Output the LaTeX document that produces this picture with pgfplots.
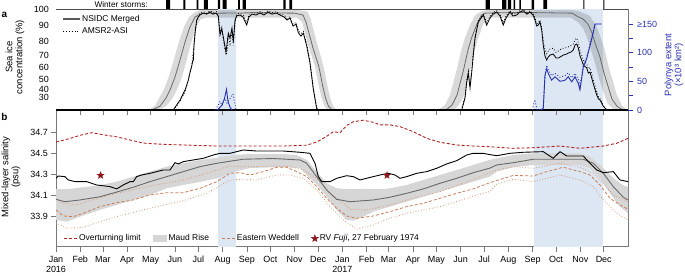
\documentclass[border=0pt]{standalone}
\usepackage{pgfplots}
\pgfplotsset{compat=1.18}
\usepackage{fontspec}
\setmainfont{Liberation Sans}
\definecolor{pblue}{RGB}{40,50,175}
\definecolor{lblue}{RGB}{221,231,243}
\definecolor{bandgray}{RGB}{214,214,214}
\definecolor{medgray}{RGB}{105,105,105}
\definecolor{olred}{RGB}{178,34,34}
\definecolor{ewdash}{RGB}{200,125,90}
\definecolor{ewdot}{RGB}{212,150,118}
\definecolor{starred}{RGB}{140,22,28}
\definecolor{axgray}{RGB}{120,120,120}
\pgfdeclareplotmark{fstar}{%
  \pgfpathmoveto{\pgfpointpolar{90}{\pgfplotmarksize}}%
  \pgfpathlineto{\pgfpointpolar{126}{0.42\pgfplotmarksize}}%
  \pgfpathlineto{\pgfpointpolar{162}{\pgfplotmarksize}}%
  \pgfpathlineto{\pgfpointpolar{198}{0.42\pgfplotmarksize}}%
  \pgfpathlineto{\pgfpointpolar{234}{\pgfplotmarksize}}%
  \pgfpathlineto{\pgfpointpolar{270}{0.42\pgfplotmarksize}}%
  \pgfpathlineto{\pgfpointpolar{306}{\pgfplotmarksize}}%
  \pgfpathlineto{\pgfpointpolar{342}{0.42\pgfplotmarksize}}%
  \pgfpathlineto{\pgfpointpolar{18}{\pgfplotmarksize}}%
  \pgfpathlineto{\pgfpointpolar{54}{0.42\pgfplotmarksize}}%
  \pgfpathclose
  \pgfusepathqfillstroke
}
\pgfplotsset{
  lleg/.style={legend image code/.code={\draw[##1] (0bp,0bp) -- (13bp,0bp);}},
  llegw/.style={legend image code/.code={\draw[##1] (0bp,0bp) -- (17bp,0bp);}},
  rleg/.style={legend image code/.code={\fill[##1] (0bp,-3.5bp) rectangle (14bp,3.5bp);}},
  sleg/.style={legend image code/.code={\draw[##1] plot coordinates {(3.5bp,0bp)};}},
}
\begin{document}
\fontsize{9}{10}\selectfont
\begin{tikzpicture}
\useasboundingbox (0,0) rectangle (685bp,-276bp);
\pgfplotsset{every axis/.append style={scale only axis, width=572bp, xmin=0, xmax=731,
  font=\fontsize{9}{10}\selectfont, /pgf/number format/assume math mode=true}}

% ---------------- panel b ----------------
\begin{axis}[at={(56bp,-110bp)}, anchor=north west, height=136.7bp,
  ymin=33.605, ymax=34.918,
  axis line style={axgray, line width=0.5bp},
  xtick={0,31,60,91,121,152,182,213,244,274,305,335,366,397,425,456,486,517,547,578,609,639,670,700},
  xticklabels={Jan\\2016,Feb,Mar,Apr,May,Jun,Jul,Aug,Sep,Oct,Nov,Dec,Jan\\2017,Feb,Mar,Apr,May,Jun,Jul,Aug,Sep,Oct,Nov,Dec},
  xticklabel style={align=center, yshift=-1bp},
  xtick pos=left, ytick pos=left,
  tick align=outside, major tick length=5bp,
  tick style={axgray, line width=0.5bp},
  ytick={33.9,34.1,34.3,34.5,34.7},
  yticklabel style={/pgf/number format/.cd, fixed, fixed zerofill, precision=1},
  legend style={at={(0.013,0.02)}, anchor=south west, draw=none, fill=none,
    font=\fontsize{8.5}{9.5}\selectfont, inner sep=0pt,
    nodes={inner sep=1.5bp}, legend columns=4,
    /tikz/every even column/.append style={column sep=11bp}},
  legend cell align=left,
]
\addlegendimage{olred, dashed, dash pattern=on 3bp off 2bp, line width=0.9bp, lleg}
\addlegendentry{Overturning limit}
\addlegendimage{fill=bandgray, draw=none, rleg}
\addlegendentry{Maud Rise}
\addlegendimage{ewdash, dashed, dash pattern=on 3bp off 2bp, line width=0.8bp, lleg}
\addlegendentry{Eastern Weddell}
\addlegendimage{only marks, mark=fstar, mark size=3.6bp, starred, sleg}
\addlegendentry{RV \textit{Fuji}, 27 February 1974}

% light blue periods
\addplot[fill=lblue, draw=none, forget plot] coordinates {(207.4,33.605)(229.6,33.605)(229.6,34.918)(207.4,34.918)};
\addplot[fill=lblue, draw=none, forget plot] coordinates {(611.2,33.605)(698.7,33.605)(698.7,34.918)(611.2,34.918)};
% Maud Rise band
\addplot[fill=bandgray, draw=none, forget plot] coordinates {
(0,34.157)(17.9,34.16)(56.2,34.196)(77.6,34.23)(98.8,34.278)(120.1,34.326)(141.5,34.374)(162.7,34.406)(184,34.438)(205.4,34.46)(226.6,34.486)(247.9,34.495)(290.5,34.495)(307.6,34.486)(320.4,34.438)(333.2,34.326)(345.9,34.214)(358.7,34.166)(375.7,34.157)(397,34.16)(414.1,34.157)(426.8,34.166)(448.2,34.198)(469.4,34.246)(490.7,34.294)(512.1,34.342)(533.3,34.39)(554.6,34.44)(584.4,34.486)(610,34.502)(669.6,34.502)(682.4,34.47)(695.2,34.39)(708,34.294)(720.8,34.214)(731,34.176)
(731,33.926)(720.8,33.99)(708,34.118)(695.2,34.262)(682.4,34.358)(669.6,34.39)(610,34.39)(584.4,34.368)(563.1,34.326)(554.6,34.278)(533.3,34.23)(512.1,34.182)(490.7,34.134)(469.4,34.086)(448.2,34.038)(426.8,33.99)(405.5,33.942)(392.7,33.894)(380,33.855)(371.5,33.862)(358.7,33.958)(345.9,34.086)(333.2,34.2)(324.6,34.26)(311.8,34.36)(290.5,34.37)(247.9,34.361)(226.6,34.323)(205.4,34.262)(184,34.227)(162.7,34.198)(141.5,34.166)(120.1,34.102)(98.8,34.054)(77.6,34.006)(56.2,33.958)(30.7,33.894)(13.7,33.846)(0,33.862)};
% Eastern Weddell upper dotted
\addplot[ewdot, dotted, line width=0.8bp, forget plot] coordinates {
(0,34.06)(9.3,34.022)(26.5,34.006)(43.5,34.047)(77.6,34.118)(120.1,34.188)(162.7,34.246)(192.6,34.31)(222.4,34.38)(239.4,34.374)(256.5,34.374)(282,34.38)(299,34.374)(316,34.342)(333.2,34.262)(350.2,34.118)(367.2,34.022)(375.7,33.965)(397,33.958)(426.8,34.006)(448.2,34.054)(490.7,34.134)(533.3,34.25)(563.1,34.34)(584.4,34.374)(610,34.358)(644.1,34.406)(669.6,34.368)(686.7,34.31)(699.5,34.214)(712.2,34.102)(731,34.038)};
% Eastern Weddell lower dotted
\addplot[ewdot, dotted, line width=0.8bp, forget plot] coordinates {
(0,33.836)(13.7,33.782)(34.9,33.79)(56.2,33.846)(77.6,33.894)(120.1,33.974)(162.7,34.047)(192.6,34.118)(222.4,34.246)(239.4,34.253)(256.5,34.246)(282,34.294)(299,34.294)(316,34.262)(333.2,34.15)(350.2,33.99)(367.2,33.862)(384.3,33.773)(405.5,33.814)(426.8,33.878)(448.2,33.926)(469.4,33.958)(490.7,33.99)(512.1,34.038)(533.3,34.092)(554.6,34.134)(563.1,34.207)(584.4,34.253)(610,34.23)(644.1,34.294)(669.6,34.246)(686.7,34.182)(699.5,34.054)(716.5,33.926)(731,33.862)};
% Eastern Weddell median dashed
\addplot[ewdash, dashed, dash pattern=on 3bp off 2bp, line width=0.8bp, forget plot] coordinates {
(0,33.958)(9.3,33.9)(22.1,33.894)(34.9,33.926)(56.2,33.99)(77.6,34.028)(98.8,34.054)(120.1,34.102)(141.5,34.124)(162.7,34.124)(184,34.166)(205.4,34.23)(222.4,34.31)(235.1,34.316)(247.9,34.294)(264.9,34.326)(282,34.368)(294.8,34.368)(307.6,34.326)(320.4,34.278)(333.2,34.182)(345.9,34.07)(358.7,33.974)(371.5,33.9)(384.3,33.878)(405.5,33.9)(426.8,33.942)(448.2,33.99)(469.4,34.022)(490.7,34.07)(512.1,34.118)(533.3,34.16)(554.6,34.22)(584.4,34.29)(610,34.284)(627,34.326)(648.3,34.368)(669.6,34.326)(682.4,34.294)(695.2,34.198)(708,34.07)(720.8,34.006)(731,33.965)};
% Maud Rise median
\addplot[medgray, line width=0.9bp, forget plot] coordinates {
(0,34.06)(11.5,34.037)(30.7,34.054)(56.2,34.085)(77.6,34.13)(98.8,34.176)(120.1,34.23)(141.5,34.278)(162.7,34.326)(184,34.374)(205.4,34.406)(226.6,34.431)(239.4,34.445)(277.7,34.452)(311.8,34.438)(320.4,34.406)(333.2,34.278)(345.9,34.15)(358.7,34.06)(375.7,34.037)(405.5,34.054)(426.8,34.08)(448.2,34.118)(469.4,34.16)(490.7,34.214)(512.1,34.262)(533.3,34.316)(554.6,34.36)(563.1,34.39)(584.4,34.412)(610,34.445)(673.9,34.445)(686.7,34.406)(699.5,34.31)(712.2,34.182)(725,34.08)(731,34.054)};
% overturning limit
\addplot[olred, dashed, dash pattern=on 3bp off 2bp, line width=0.9bp, forget plot] coordinates {
(0,34.61)(17.9,34.645)(30.7,34.675)(45.6,34.70)(60.4,34.68)(77.6,34.66)(94.6,34.63)(111.6,34.60)(137.1,34.588)(162.7,34.582)(205.4,34.572)(247.9,34.572)(290.5,34.572)(320.4,34.58)(333.2,34.61)(345.9,34.665)(354.4,34.71)(363,34.70)(371.5,34.77)(380,34.805)(392.7,34.82)(405.5,34.80)(414.1,34.775)(426.8,34.775)(439.6,34.758)(456.6,34.71)(473.7,34.646)(490.7,34.608)(512.1,34.582)(533.3,34.572)(554.6,34.565)(584.4,34.55)(610,34.556)(644.1,34.572)(669.6,34.55)(699.4,34.572)(716.5,34.598)(731,34.646)};
% observed mixed-layer salinity
\addplot[black, line width=0.9bp, forget plot] coordinates {
(0,34.262)(2.9,34.284)(11.5,34.278)(15.7,34.246)(24.3,34.23)(39.2,34.23)(52,34.198)(69,34.182)(77.6,34.16)(86,34.198)(94.6,34.23)(98.8,34.23)(103.1,34.278)(109.5,34.294)(120.1,34.31)(137.1,34.342)(145.7,34.342)(152.1,34.412)(156.3,34.4)(162.7,34.422)(175.5,34.438)(188.2,34.454)(201,34.486)(209.6,34.502)(222.4,34.502)(230.9,34.518)(239.4,34.534)(256.5,34.524)(290.5,34.524)(311.8,34.512)(324.6,34.502)(331,34.406)(335.2,34.278)(339.6,34.23)(350.2,34.23)(358.7,34.262)(371.5,34.287)(380,34.278)(388.5,34.246)(397,34.262)(405.5,34.278)(414.1,34.294)(424.7,34.31)(433.2,34.294)(439.6,34.262)(448.2,34.278)(461,34.31)(473.7,34.326)(486.5,34.358)(499.3,34.4)(512.1,34.431)(524.9,34.486)(533.3,34.502)(546.1,34.502)(550.4,34.495)(563.2,34.479)(580.2,34.502)(597.2,34.512)(622.7,34.518)(629.1,34.486)(635.5,34.454)(644.1,34.518)(652.7,34.476)(673.9,34.476)(682.4,34.406)(691,34.342)(699.5,34.316)(712.2,34.326)(720.8,34.246)(731,34.23)};
% RV Fuji
\addplot[only marks, mark=fstar, mark size=3.6bp, starred, forget plot] coordinates {(57,34.29)(423,34.29)};
\end{axis}

% ---------------- winter storms strip ----------------
\begin{axis}[at={(56bp,0bp)}, anchor=north west, height=9bp, ymin=0, ymax=1, hide axis, clip=false]
\addplot[ybar interval, fill=black, draw=none] coordinates {
(140.6,1)(145.7,0)(162.7,1)(165.2,0)(179.8,1)(181.9,0)(189.1,1)(194.2,0)(207.0,1)(209.6,0)(213.0,1)(218.2,0)(232.6,1)(235.1,0)(238.6,1)(242.8,0)(290.5,1)(293.3,0)(298.1,1)(301.6,0)(549.1,1)(554.6,0)(570,1)(575.7,0)(577.6,1)(581.5,0)(584.7,1)(586.6,0)(592.1,1)(594.2,0)(607.9,1)(610.9,0)(622.7,1)(627.5,0)(673.9,1)(675.2,0)(699.4,1)(700.7,0)};
\end{axis}
\node[anchor=east, inner sep=0pt, font=\fontsize{8.3}{9}\selectfont] at (148bp,-4.6bp) {Winter storms:};

% ---------------- panel a, sea ice ----------------
\begin{axis}[at={(56bp,-9bp)}, anchor=north west, height=101bp,
  ymin=12, ymax=100,
  y coord trafo/.code={\pgfmathparse{0.00668*(#1)*(#1)+0.399*(#1)}},
  axis x line*=top, axis y line*=left,
  x axis line style={black!70, line width=0.6bp},
  y axis line style={draw=none},
  xtick=\empty,
  ytick={30,40,50,60,70,80,90,100},
  yticklabels={30,40,50,60,70,80,90,100},
  ytick style={draw=none},
  yticklabel style={xshift=-4bp},
  legend style={at={(0.0105,0.955)}, anchor=north west, draw=none, fill=none,
    font=\fontsize{8.5}{9.5}\selectfont, inner sep=0pt, nodes={inner sep=1.5bp}, row sep=2bp},
  legend cell align=left,
]
\addlegendimage{black!65, line width=1.5bp, llegw}
\addlegendentry{NSIDC Merged}
\addlegendimage{black, dotted, line width=0.9bp, llegw}
\addlegendentry{AMSR2-ASI}
\addplot[fill=lblue, draw=none, forget plot] coordinates {(207.4,12)(229.6,12)(229.6,100)(207.4,100)};
\addplot[fill=lblue, draw=none, forget plot] coordinates {(611.2,12)(698.7,12)(698.7,100)(611.2,100)};
% climatology bands
\addplot[fill=black, fill opacity=0.15, draw=none, forget plot] coordinates {
(118,12)(126,18.3)(132,29.8)(137.5,39)(144,51.9)(150.5,66.2)(157,79.3)(163.5,89.2)(170,95.3)(177,98)(184,99.3)(310,99.3)
(321.7,98.5)(325.5,94)(329.3,87)(334.4,77)(342.1,60.6)(346.6,44.2)(350.4,29.8)(354.2,18.3)(358.7,12)
(347.7,12)(343.2,18.3)(339.4,29.8)(335.6,44.2)(331.1,60.6)(323.4,75.2)(318.3,85.3)(314.5,92.3)(308,95)(192,95)
(185,94)(179,89.2)(173,79.3)(167,66.2)(161,51.9)(154.5,39)(149,29.8)(141,18.3)(131,12)};
\addplot[fill=black, fill opacity=0.15, draw=none, forget plot] coordinates {
(488,12)(497,20)(503.5,33.3)(512,58.1)(518,73.7)(522.5,82)(529,90.4)(536,96.5)(543,98.5)(550,99.3)(660,99.3)
(666.8,99)(682.4,96)(691.3,89)(695,84)(701.2,74)(706.3,61)(711.4,49)(716.5,34)(722.9,20)(728,14)(731,12)
(715,12)(710.9,15)(704.5,23)(699.4,37)(694.3,50)(689.2,63)(683,75)(679,82)(673.9,88)(667.5,92)(658,95)(556,95)
(551,94)(545.5,90.4)(539.5,82)(535,73.7)(529.5,58.1)(521.5,33.3)(515,20)(508,12)};
% climatology medians
\addplot[medgray, line width=0.8bp, forget plot] coordinates {
(122.7,12)(132.9,18.3)(140.6,29.8)(145.7,39)(152.1,51.9)(158.5,66.2)(164.9,79.3)(171.2,89.2)(177.6,95.3)(184,97)(190.4,97.5)(250,97.8)(305,97.6)(315.7,96.5)(319.5,92.3)(323.3,85.3)(328.4,75.2)(336.1,60.6)(340.6,44.2)(344.4,29.8)(348.2,18.3)(352.7,12)};
\addplot[medgray, line width=0.8bp, forget plot] coordinates {
(498.4,12)(506.1,20)(512.5,33.3)(520.8,58.1)(526.5,73.7)(531,82)(537.4,90.4)(543.8,96.5)(549.5,97.7)(600,98)(660,97.6)(665.5,95.9)(673.5,94.1)(679.9,91)(685,85.3)(688.9,78.6)(695.2,68.5)(700.3,55.5)(705.4,43.2)(710.5,28.5)(716.9,18.3)(722,14)(727,12)};
% AMSR2-ASI
\addplot[black, dotted, line width=0.8bp, forget plot] coordinates {
(150.5,12)(159,26)(165,37)(169.5,50)(172,58)(174,64)(176,76)(178,86)(180,93)(182,96)(184,97.5)(188,98.5)(192.6,97.5)(197,99)(201,98)(205,98.5)(207.4,96)(209.6,86)(211.8,90)(214,80)(217.3,70)(219,74)(220.2,84)(222.4,78)(225,86)(226.6,77)(228.8,92)(231,97)(235,97.5)(239,96.5)(243.7,92)(246.6,96.5)(250.5,98)(255.6,97.5)(260.7,98.5)(265.8,97.5)(270.9,99)(276,98)(281.2,98.5)(286.3,97)(291.4,96.5)(295.2,94.5)(299.1,95.5)(302.9,91)(306.7,92)(309.9,87)(313.1,85)(316.1,86.5)(320.4,78)(324.6,65)(328.8,42)(333.1,16)(335,12)};
\addplot[black, dotted, line width=0.8bp, forget plot] coordinates {
(518,12)(522.5,31)(525,49)(527,57)(529,43)(531.3,58)(533.3,72)(535.5,83)(539.7,93)(546.1,97)(550.4,92)(554.6,95.5)(558.5,98)(563.2,99)(567.4,97)(571.6,92)(575.1,96)(580.2,99)(584,97)(588.7,97.5)(593,99)(597.2,99.5)(601.9,98)(605.8,99)(609.6,97.5)(612.1,95)(614.3,91)(616.4,92)(618.5,93.5)(620.7,89)(622.7,80)(624.9,74)(627.1,71)(629.1,73)(631.3,74.5)(635.5,75)(639,72)(641.9,73)(644.1,74)(648.3,75)(652.7,75.5)(654.7,76)(658.2,77)(661.1,78)(663.3,81)(665.5,82)(667.5,79)(669.7,73)(671.8,70)(673.9,66)(678.3,63)(680.3,59)(682.5,60)(686.7,49)(691,37)(693.3,31)(695.2,29)(697.4,25)(699.4,20)(701.6,16)(704,12)};
% NSIDC merged
\addplot[black, line width=0.8bp, forget plot] coordinates {
(149.8,12)(158.5,27)(164.9,39)(169.1,49)(171.2,56)(173.4,61)(174.4,64.6)(175.5,66)(176.4,77)(177.6,85)(179.8,93.5)(181.9,95.3)(184,96.5)(187.9,97.7)(192.6,97)(196.8,98.3)(200.6,97)(204.5,97.7)(207.4,95.9)(209.6,84)(211.8,88)(214.1,82)(217.3,72)(220.2,85.3)(222.4,82)(224.9,88.6)(226.6,79.3)(228.8,93.5)(230.9,96)(235.1,96.5)(239,95.3)(243.7,90.4)(246.6,95.3)(250.5,97)(255.6,96.5)(260.7,97.7)(265.8,96.5)(270.9,98.3)(276,97)(281.2,97.7)(286.3,96.5)(291.4,95.3)(295.2,93.5)(299.1,94.7)(302.9,89.8)(306.7,91)(309.9,85.3)(313.1,83.3)(316.1,85.3)(320.4,76.6)(324.6,63.8)(328.8,40)(333.1,15)(334.8,12)};
\addplot[black, line width=0.8bp, forget plot] coordinates {
(518.5,12)(522.7,29.8)(524.9,47.1)(526.9,55.5)(529.1,41.2)(531.3,56.3)(533.3,70)(535.5,82)(539.7,92.3)(546.1,96.5)(550.4,90.4)(554.6,94.7)(558.5,97)(563.2,98.3)(567.4,95.9)(571.6,90.4)(575.1,94.7)(580.2,98.3)(584,95.9)(588.7,96.5)(593,98.3)(597.2,99)(601.9,97)(605.8,98.3)(609.6,96.5)(612.1,93.5)(614.3,89.8)(616.4,90.4)(618.5,92.3)(620.7,87.3)(622.7,77.3)(624.9,69.3)(627.1,66.2)(629.1,68.5)(631.3,70)(635.5,70.8)(639,67.8)(641.9,67.8)(644.1,68.5)(648.3,70)(652.7,70.8)(654.7,71.5)(658.2,72.3)(661.1,73.7)(663.3,77.3)(665.5,78)(667.5,75.2)(669.7,69.3)(671.8,66.2)(673.9,62.2)(678.3,59.8)(680.3,55.5)(682.5,56.3)(686.7,45.3)(691,33.3)(693.3,28.5)(695.2,27.1)(697.4,23)(699.4,18.3)(701.6,15.3)(704.2,12)};
\end{axis}

% ---------------- panel a, polynya extent ----------------
\begin{axis}[at={(56bp,-9bp)}, anchor=north west, height=101bp,
  ymin=0, ymax=176.2,
  axis x line*=bottom, axis y line*=right,
  x axis line style={black, line width=1.3bp},
  y axis line style={axgray, line width=0.5bp},
  xtick={0,31,60,91,121,152,182,213,244,274,305,335,366,397,425,456,486,517,547,578,609,639,670,700},
  xticklabel style={opacity=0},
  xtick style={axgray, line width=0.5bp},
  tick align=outside, major tick length=5bp, minor tick length=5bp,
  ytick={0,50,100,150}, yticklabels={0,50,100,≥150},
  minor ytick={25,75,125},
  ytick style={pblue, line width=0.5bp},
  yticklabel style={pblue, xshift=1bp},
]
\addplot[pblue, line width=0.9bp] coordinates {(205,0)(207,1)(212,8)(215.3,20)(217.9,36)(219.8,15)(222.4,5)(225,0)};
\addplot[pblue, dotted, line width=0.9bp] coordinates {(204,0)(205.8,5)(209.6,15)(212.1,8)(216,20)(218.5,12)(222.4,20)(226.2,28)(228.8,10)(230,0)};
\addplot[pblue, line width=0.9bp] coordinates {(620,0)(622.7,3)(624.9,60)(627.1,72)(629.1,64)(633.4,52)(637.7,58)(644.1,50)(650.5,52)(654.7,58)(659,49)(663.3,58)(667.5,46)(669.6,35)(671.8,55)(673.9,75)(678.3,90)(682.4,112)(686.6,135)(688.9,150)(697.4,150)};
\addplot[pblue, dotted, line width=0.9bp] coordinates {(609,0)(610.5,12)(612,18)(613.5,8)(615,0)(622.7,2)(624.9,62)(627.1,78)(629.1,70)(633.4,60)(637.7,64)(644.1,57)(650.5,60)(654.7,65)(659,56)(663.3,64)(667.5,54)(669.6,42)(671.8,60)(673.9,78)(678.3,93)(682.4,115)(686.6,138)(688.9,150)(697.4,150)};
\end{axis}

% labels
\node[font=\bfseries\fontsize{10}{11}\selectfont] at (4.5bp,-15bp) {a};
\node[font=\bfseries\fontsize{10}{11}\selectfont] at (4.5bp,-116.5bp) {b};
\node[rotate=90, align=center, font=\fontsize{9.5}{10}\selectfont] at (15bp,-57bp) {Sea ice\\concentration (\%)};
\node[rotate=90, align=center, font=\fontsize{9.5}{10}\selectfont] at (11bp,-177bp) {Mixed-layer salinity\\(psu)};
\node[rotate=90, align=center, text=pblue, font=\fontsize{9.5}{10}\selectfont] at (674bp,-65bp) {Polynya extent\\(×10³ km²)};
\end{tikzpicture}
\end{document}
